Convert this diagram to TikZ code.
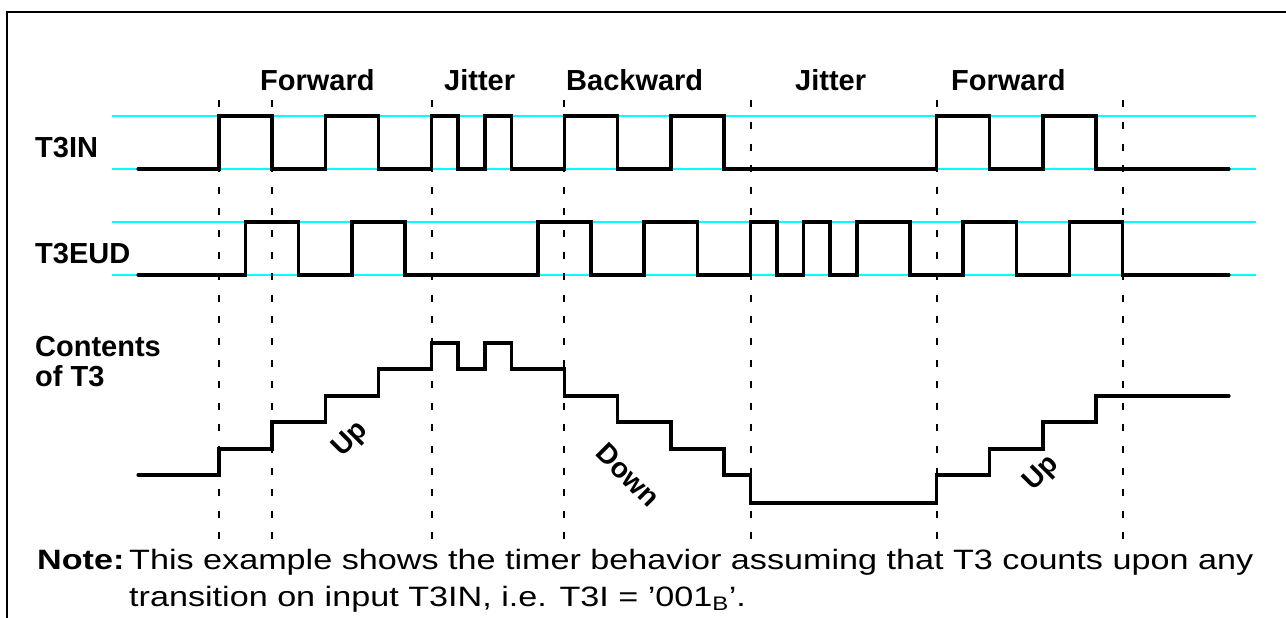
\documentclass[tikz,border=0pt]{standalone}
\usepackage{fontspec}
\setmainfont{Liberation Sans}
\newfontfamily\notefont[FakeStretch=1.22]{Liberation Sans}
\definecolor{guide}{RGB}{0,255,255}
\tikzset{
  frameline/.style={line width=2.5pt,black},
  guideline/.style={line width=2pt,guide},
  phaseline/.style={line width=2pt,black,dash pattern=on 7pt off 14.6pt},
  wave/.style={line width=3.5pt,black,line join=miter,line cap=round},
  lbl/.style={inner sep=0pt,anchor=base west,font=\fontsize{29}{34}\selectfont\bfseries},
  slant/.style={inner sep=0pt,font=\fontsize{28}{33}\selectfont\bfseries},
  notetxt/.style={inner sep=0pt,anchor=base west,font=\notefont\fontsize{28}{33}\selectfont}
}
\begin{document}
\begin{tikzpicture}[x=1pt,y=-1pt]
\useasboundingbox (0,0) rectangle (1286,618);
% frame
\draw[frameline] (7,618) -- (7,12) -- (1286,12);
% guide lines
\draw[guideline] (112,116) -- (1256,116);
\draw[guideline] (112,169) -- (1256,169);
\draw[guideline] (112,222) -- (1256,222);
\draw[guideline] (112,275) -- (1256,275);
\begin{scope}[x=53.15pt,y=-1pt,xshift=219pt]
  % phase separators
  \foreach \t in {0,1,4,6.5,10,13.5,17}
    \draw[phaseline] (\t,100.3) -- (\t,545);
  % T3IN
  \draw[wave] (-1.52,169) -| (0,116) -| (1,169) -| (2,116) -| (3,169) -| (4,116)
     -| (4.5,169) -| (5,116) -| (5.5,169) -| (6.5,116) -| (7.5,169) -| (8.5,116)
     -| (9.5,169) -| (13.5,116) -| (14.5,169) -| (15.5,116) -| (16.5,169) -- (19,169);
  % T3EUD
  \draw[wave] (-1.52,275) -| (0.5,222) -| (1.5,275) -| (2.5,222) -| (3.5,275) -| (6,222)
     -| (7,275) -| (8,222) -| (9,275) -| (10,222) -| (10.5,275) -| (11,222)
     -| (11.5,275) -| (12,222) -| (13,275) -| (14,222) -| (15,275) -| (16,222)
     -| (17,275) -- (19,275);
  % Contents of T3
  \draw[wave] (-1.52,475) -| (0,449) -| (1,422) -| (2,396) -| (3,369) -| (4,343)
     -| (4.5,369) -| (5,343) -| (5.5,369) -| (6.5,396) -| (7.5,422) -| (8.5,449)
     -| (9.5,475) -| (10,503) -| (13.5,475) -| (14.5,449) -| (15.5,422)
     -| (16.5,396) -- (19,396);
\end{scope}
% phase labels
\node[lbl] (fw1) at (260,91) {Forward};
\node[lbl] (jt1) at (444,91) {Jitter};
\node[lbl] (bw) at (566,91) {Backward};
\node[lbl] (jt2) at (795,91) {Jitter};
\node[lbl] (fw2) at (951,91) {Forward};
% signal labels
\node[lbl] (t3in) at (35,157) {T3IN};
\node[lbl] (t3eud) at (35,263) {T3EUD};
\node[lbl] (cont) at (35,356) {Contents};
\node[lbl] (oft3) at (35,386) {of T3};
% slanted labels
\node[slant,rotate=45] (up1) at (351,440) {Up};
\node[slant,rotate=-45] (down) at (628,475) {Down};
\node[slant,rotate=45] (up2) at (1042,474) {Up};
% note
\node[notetxt,font=\notefont\fontsize{28}{33}\selectfont\bfseries] (note) at (37,569) {Note:};
\node[notetxt] (line1) at (129,569) {This example shows the timer behavior assuming that T3 counts upon any};
\node[notetxt] (line2) at (129,606) {transition on input T3IN, i.e. T3I = ’001\textsubscript{B}’.};
\end{tikzpicture}
\end{document}
